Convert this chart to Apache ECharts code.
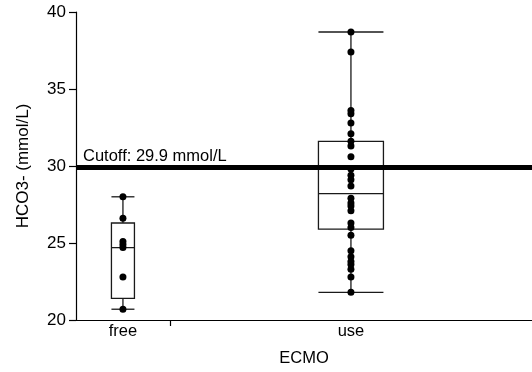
<!DOCTYPE html>
<html>
<head>
<meta charset="utf-8">
<script src="https://cdn.jsdelivr.net/npm/echarts@6/dist/echarts.min.js"></script>
<style>
html,body{margin:0;padding:0;background:#fff;}
#chart{width:532px;height:372px;}
</style>
</head>
<body>
<div id="chart"></div>
<script>
// ---- data ----
const categories = ['free', 'use'];
const freeValues = [28.0, 26.6, 25.1, 24.9, 24.7, 22.8, 20.7];
const useValues = [38.7, 37.4, 33.6, 33.4, 32.8, 32.1, 31.6, 31.3, 30.6, 29.8, 29.4, 29.1, 28.7,
                   27.9, 27.6, 27.4, 27.1, 26.3, 26.0, 25.5, 24.5, 24.1, 23.8, 23.6, 23.3, 22.8, 21.8];
// box stats: [min, q1, median, q3, max]
const freeBox = [20.7, 21.4, 24.7, 26.3, 28.0];
const useBox = [21.8, 25.9, 28.2, 31.6, 38.7];
const yTicks = [20, 25, 30, 35, 40];
const cutoff = 29.9;
const cutoffLabel = 'Cutoff: 29.9 mmol/L';

// ---- styles ----
const FONT = '"Liberation Sans", Arial, sans-serif';
const boxWidthPx = [23, 65];

// category bands proportional to group size
const groups = [freeValues, useValues];
const boxes = [freeBox, useBox];
const counts = groups.map(g => g.length);
const total = counts.reduce((a, b) => a + b, 0);
const starts = [];
let acc = 0;
counts.forEach(c => { starts.push(acc); acc += c; });
const centers = counts.map((c, i) => starts[i] + c / 2);
const boundaries = starts.slice(1);

const scatterData = [];
groups.forEach((g, i) => g.forEach(v => scatterData.push([centers[i], v])));
const boxData = boxes.map((b, i) => [centers[i]].concat(b));

const chart = echarts.init(document.getElementById('chart'), null, {renderer: 'canvas'});
chart.setOption({
  animation: false,
  backgroundColor: '#fff',
  textStyle: {fontFamily: FONT},
  grid: {left: 76, right: 0, top: 12, bottom: 52},
  xAxis: {
    type: 'value', min: 0, max: total,
    name: 'ECMO', nameLocation: 'middle', nameGap: 30,
    nameTextStyle: {fontSize: 16.5, color: '#000', fontFamily: FONT},
    axisLine: {show: true, lineStyle: {color: '#000', width: 1.2}},
    axisTick: {show: true, customValues: boundaries, length: 6, lineStyle: {color: '#000', width: 1.2}},
    axisLabel: {
      customValues: centers, margin: 3, fontSize: 16.5, color: '#000', fontFamily: FONT,
      formatter: v => categories[centers.indexOf(v)]
    },
    splitLine: {show: false}
  },
  yAxis: {
    type: 'value', min: yTicks[0], max: yTicks[yTicks.length - 1], interval: 5,
    name: 'HCO3- (mmol/L)', nameLocation: 'middle', nameGap: 44, nameRotate: 90,
    nameTextStyle: {fontSize: 17, color: '#000', fontFamily: FONT},
    axisLine: {show: true, lineStyle: {color: '#000', width: 1.2}},
    axisTick: {show: true, length: 7, lineStyle: {color: '#000', width: 1.2}},
    axisLabel: {margin: 10, fontSize: 17, color: '#000', fontFamily: FONT},
    splitLine: {show: false}
  },
  series: [
    {
      type: 'custom',
      z: 2,
      data: boxData,
      encode: {x: 0, y: [1, 2, 3, 4, 5]},
      renderItem: function (params, api) {
        const w = boxWidthPx[params.dataIndex];
        const c = api.value(0);
        const pMin = api.coord([c, api.value(1)]);
        const pQ1 = api.coord([c, api.value(2)]);
        const pMed = api.coord([c, api.value(3)]);
        const pQ3 = api.coord([c, api.value(4)]);
        const pMax = api.coord([c, api.value(5)]);
        const x = pMin[0];
        const st = {stroke: '#1a1a1a', lineWidth: 1.3, fill: null};
        return {
          type: 'group',
          children: [
            {type: 'line', shape: {x1: x, y1: pMin[1], x2: x, y2: pQ1[1]}, style: st},
            {type: 'line', shape: {x1: x, y1: pQ3[1], x2: x, y2: pMax[1]}, style: st},
            {type: 'line', shape: {x1: x - w / 2, y1: pMin[1], x2: x + w / 2, y2: pMin[1]}, style: st},
            {type: 'line', shape: {x1: x - w / 2, y1: pMax[1], x2: x + w / 2, y2: pMax[1]}, style: st},
            {type: 'rect', shape: {x: x - w / 2, y: pQ3[1], width: w, height: pQ1[1] - pQ3[1]}, style: {stroke: '#1a1a1a', lineWidth: 1.3, fill: 'none'}},
            {type: 'line', shape: {x1: x - w / 2, y1: pMed[1], x2: x + w / 2, y2: pMed[1]}, style: st}
          ]
        };
      },
      markLine: {
        silent: true,
        symbol: 'none',
        lineStyle: {color: '#000', width: 5, type: 'solid'},
        label: {
          show: true, position: 'insideStartTop', formatter: cutoffLabel,
          fontSize: 16.5, color: '#000', fontFamily: FONT, distance: [7, 3]
        },
        data: [{yAxis: cutoff}]
      }
    },
    {
      type: 'scatter',
      z: 5,
      symbol: 'circle',
      symbolSize: 7,
      itemStyle: {color: '#000', opacity: 1},
      data: scatterData
    }
  ]
});
</script>
</body>
</html>
